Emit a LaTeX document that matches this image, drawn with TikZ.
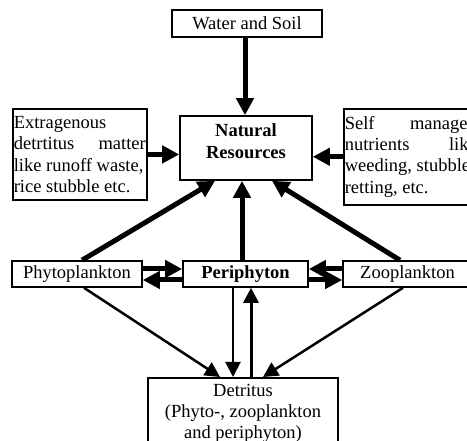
\documentclass[tikz,border=0pt]{standalone}
\usepackage{fontspec}
\setmainfont{Liberation Serif}
\usetikzlibrary{arrows.meta}
\begin{document}
\begin{tikzpicture}[x=1pt,y=-1pt,
  box/.style={draw,line width=1.6pt,inner sep=0pt,font=\fontsize{18.5}{21.3}\selectfont},
  bigarrow/.style={line width=5pt,-{Triangle[length=17pt,width=17pt]}},
  smallarrow/.style={line width=2.5pt,-{Triangle[length=15pt,width=15pt]}}]
\useasboundingbox (0,0) rectangle (467,441);
\clip (0,0) rectangle (467,441);

\node[box,minimum width=150pt,minimum height=27pt] (ws) at (247,23.5) {Water and Soil};
\node[box,minimum width=132pt,minimum height=64pt,align=center,font=\fontsize{18.5}{21.3}\selectfont\bfseries] (nr) at (246,148) {Natural\\Resources\rule[-13.6pt]{0pt}{13.6pt}};
\node[box,anchor=north west,text width=132pt,inner xsep=1pt,inner ysep=7.5pt,align=justify] (ext) at (12,108) {Extragenous\\detrtitus\hfill matter\\like runoff waste,\\rice stubble etc.};
\node[box,anchor=north west,text width=132pt,inner xsep=1pt,inner ysep=7.5pt,align=justify] (self) at (343,108) {Self\hfill managed\\nutrients\hfill like\\weeding, stubble\\retting, etc.};

\node[box,minimum width=130pt,minimum height=26pt] (phyto) at (77,274) {Phytoplankton};
\node[box,minimum width=125pt,minimum height=26pt,font=\fontsize{18.5}{21.3}\selectfont\bfseries] (peri) at (245.5,274) {Periphyton};
\node[box,minimum width=129pt,minimum height=26pt] (zoo) at (407.5,274) {Zooplankton};
\node[box,anchor=north,minimum width=190pt,inner ysep=6pt,align=center] (det) at (243,377) {Detritus\\(Phyto-, zooplankton\\and periphyton)};

\draw[bigarrow] ([xshift=-2pt]ws.south) -- ([xshift=-1pt]nr.north);
\draw[bigarrow] (ext.east) -- (ext.east -| nr.west);
\draw[bigarrow] (self.west) -- (self.west -| nr.east);
\draw[bigarrow] ([xshift=5pt]phyto.north) -- ([xshift=-31pt]nr.south);
\draw[bigarrow] ([xshift=-3.5pt]peri.north) -- ([xshift=-4pt]nr.south);
\draw[bigarrow] ([xshift=-7.5pt]zoo.north) -- ([xshift=26pt]nr.south);
\draw[bigarrow] ([yshift=5pt]phyto.east) -- ([yshift=5pt]peri.west);
\draw[bigarrow] ([yshift=-6pt]peri.west) -- ([yshift=-6pt]phyto.east);
\draw[bigarrow] ([yshift=5pt]zoo.west) -- ([yshift=5pt]peri.east);
\draw[bigarrow] ([yshift=-6pt]peri.east) -- ([yshift=-6pt]zoo.west);

\draw[smallarrow] ([xshift=7pt]phyto.south) -- ([xshift=-23pt]det.north);
\draw[smallarrow,line width=2pt] ([xshift=-12.5pt]peri.south) -- ([xshift=-10pt]det.north);
\draw[smallarrow,line width=3pt] ([xshift=8pt]det.north) -- ([xshift=5.5pt]peri.south);
\draw[smallarrow] ([xshift=-4.5pt]zoo.south) -- ([xshift=20pt]det.north);
\end{tikzpicture}
\end{document}
